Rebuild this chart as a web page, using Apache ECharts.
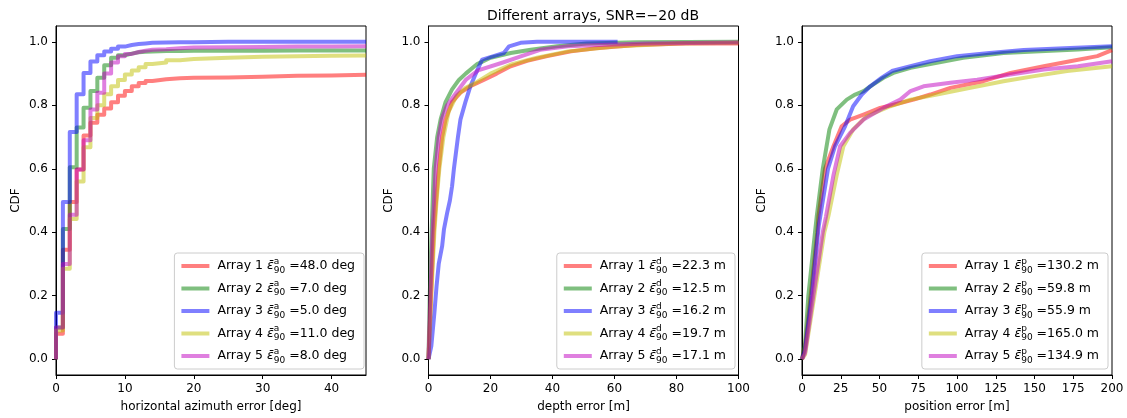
<!DOCTYPE html>
<html><head><meta charset="utf-8">
<script src="https://cdn.jsdelivr.net/npm/echarts@6/dist/echarts.min.js"></script>
<style>html,body{margin:0;padding:0;background:#fff}#c{width:1127px;height:418px}</style>
</head><body><div id="c"></div><script>
const FONT = 'DejaVu Sans';
const arrayNames = ['Array 1', 'Array 2', 'Array 3', 'Array 4', 'Array 5'];
const colors = ['rgba(255,0,0,0.5)', 'rgba(0,128,0,0.5)', 'rgba(0,0,255,0.5)', 'rgba(191,191,0,0.5)', 'rgba(191,0,191,0.5)'];
const titleText = 'Different arrays, SNR=\u221220 dB';

// Panel 1: horizontal azimuth error [deg] (step CDF at integer degrees; first entry is the CDF origin)
const azX       = [0, 0, 1, 2, 3, 4, 5, 6, 7, 8, 9, 10, 11, 12, 13, 14, 16, 18, 20, 25, 30, 35, 40, 45];
const azRed     = [0, 0.08, 0.345, 0.495, 0.598, 0.705, 0.745, 0.77, 0.79, 0.81, 0.83, 0.845, 0.86, 0.87, 0.877, 0.882, 0.885, 0.887, 0.888, 0.89, 0.893, 0.894, 0.896, 0.897];
const azGreen   = [0, 0.10, 0.41, 0.605, 0.73, 0.792, 0.845, 0.887, 0.926, 0.95, 0.958, 0.963, 0.967, 0.969, 0.97, 0.971, 0.971, 0.972, 0.972, 0.972, 0.973, 0.973, 0.973, 0.973];
const azBlue    = [0, 0.146, 0.495, 0.716, 0.835, 0.902, 0.938, 0.958, 0.97, 0.978, 0.985, 0.99, 0.993, 0.995, 0.997, 0.998, 0.999, 0.999, 1.0, 1.0, 1.0, 1.0, 1.0, 1.0];
const azYellow  = [0, 0.09, 0.285, 0.442, 0.56, 0.668, 0.76, 0.80, 0.835, 0.86, 0.88, 0.897, 0.91, 0.92, 0.93, 0.935, 0.942, 0.946, 0.95, 0.953, 0.955, 0.956, 0.957, 0.957];
const azMagenta = [0, 0.10, 0.30, 0.455, 0.598, 0.69, 0.787, 0.84, 0.90, 0.935, 0.955, 0.962, 0.968, 0.972, 0.975, 0.977, 0.98, 0.982, 0.983, 0.984, 0.985, 0.985, 0.986, 0.986];
const azE90 = ['48.0', '7.0', '5.0', '11.0', '8.0'];
const azTicks = [0, 10, 20, 30, 40];

// Panel 2: depth error [m]
const dRedX     = [0, 0.8, 1.7, 2.3, 3.3, 4.4, 5.5, 7.6, 10.3, 13.5, 17.8, 22, 26.5, 31.8, 38.3, 46, 54, 67, 83, 100];
const dRedY     = [0, 0.2, 0.4, 0.48, 0.6, 0.7, 0.755, 0.81, 0.84, 0.86, 0.88, 0.9, 0.923, 0.94, 0.955, 0.97, 0.98, 0.99, 0.995, 0.995];
const dGreenX   = [0, 0.4, 1.0, 1.7, 2.8, 3.9, 5.5, 7.6, 9.8, 12, 15.7, 20, 26.5, 33, 41.5, 51, 67, 100];
const dGreenY   = [0, 0.2, 0.4, 0.6, 0.7, 0.755, 0.81, 0.85, 0.88, 0.9, 0.93, 0.95, 0.965, 0.975, 0.986, 0.995, 0.999, 1.0];
const dBlueX    = [0, 0.6, 0.9, 1.9, 2.6, 3.3, 4.4, 5.0, 6.0, 6.9, 7.6, 8.2, 9.5, 10.3, 11.9, 13.5, 15.7, 17.3, 21, 24.3, 26, 29.7, 35, 45, 61];
const dBlueY    = [0, 0, 0.04, 0.146, 0.23, 0.30, 0.356, 0.41, 0.46, 0.5, 0.545, 0.6, 0.7, 0.755, 0.81, 0.86, 0.91, 0.944, 0.955, 0.965, 0.986, 0.997, 1.0, 1.0, 1.0];
const dYellowX  = [0, 0.9, 1.9, 2.6, 3.5, 4.8, 6.5, 9, 12, 15, 20, 27, 35, 45, 60, 80, 100];
const dYellowY  = [0, 0.2, 0.4, 0.5, 0.6, 0.7, 0.78, 0.83, 0.855, 0.87, 0.9, 0.93, 0.95, 0.97, 0.985, 0.995, 0.997];
const dMagentaX = [0, 0.6, 1.3, 2.3, 3.3, 4.4, 6, 8.2, 12, 16, 24, 30, 36, 45, 55, 70, 100];
const dMagentaY = [0, 0.2, 0.4, 0.6, 0.7, 0.76, 0.8, 0.83, 0.88, 0.91, 0.935, 0.955, 0.975, 0.986, 0.99, 0.995, 0.998];
const dE90 = ['22.3', '12.5', '16.2', '19.7', '17.1'];
const dTicks = [0, 20, 40, 60, 80, 100];

// Panel 3: position error [m]
const pRedX     = [0, 2, 5.6, 9.9, 10.6, 14.9, 20.3, 25.6, 31, 39.7, 50.4, 59, 72, 82.8, 95.7, 117, 134.5, 156, 173, 190.5, 200];
const pRedY     = [0, 0.04, 0.2, 0.4, 0.45, 0.6, 0.671, 0.734, 0.755, 0.771, 0.792, 0.802, 0.818, 0.834, 0.855, 0.876, 0.902, 0.923, 0.939, 0.955, 0.974];
const pGreenX   = [0, 2, 4.1, 8.4, 9.5, 13.4, 17.7, 22.4, 28.9, 34.3, 39.7, 46, 52.6, 59, 70, 87, 104, 130, 150, 178, 200];
const pGreenY   = [0, 0.05, 0.2, 0.4, 0.45, 0.6, 0.724, 0.787, 0.818, 0.834, 0.845, 0.866, 0.887, 0.902, 0.918, 0.934, 0.95, 0.965, 0.97, 0.976, 0.983];
const pBlueX    = [0, 2, 6.3, 10.8, 16.8, 21.3, 27.8, 33, 38.6, 44, 51.5, 58, 70, 82.8, 100, 121, 143, 173, 200];
const pBlueY    = [0, 0.03, 0.2, 0.42, 0.6, 0.671, 0.734, 0.797, 0.834, 0.86, 0.887, 0.908, 0.923, 0.939, 0.955, 0.965, 0.974, 0.981, 0.986];
const pYellowX  = [0, 2, 8, 14.4, 17, 22.4, 26.7, 33, 41.8, 56.9, 70, 87, 108.6, 130, 150, 171, 200];
const pYellowY  = [0, 0.015, 0.2, 0.4, 0.45, 0.58, 0.671, 0.724, 0.766, 0.797, 0.818, 0.834, 0.855, 0.876, 0.892, 0.908, 0.923];
const pMagentaX = [0, 2, 7.3, 13.4, 15.5, 20.3, 24.6, 31, 39.7, 52.6, 63.4, 70, 78.4, 95.7, 113, 134.5, 156, 178, 200];
const pMagentaY = [0, 0.02, 0.2, 0.4, 0.45, 0.58, 0.671, 0.713, 0.755, 0.792, 0.818, 0.845, 0.86, 0.871, 0.881, 0.897, 0.913, 0.923, 0.939];
const pE90 = ['130.2', '59.8', '55.9', '165.0', '134.9'];
const pTicks = [0, 25, 50, 75, 100, 125, 150, 175, 200];

const yTicks = [0, 0.2, 0.4, 0.6, 0.8, 1.0];

const panels = [
  { key: 'a', unit: 'deg', e90: azE90, xmax: 45, ticks: azTicks, xname: 'horizontal azimuth error [deg]', step: 'end',
    xs: [azX, azX, azX, azX, azX], ys: [azRed, azGreen, azBlue, azYellow, azMagenta] },
  { key: 'd', unit: 'm', e90: dE90, xmax: 100, ticks: dTicks, xname: 'depth error [m]', step: false,
    xs: [dRedX, dGreenX, dBlueX, dYellowX, dMagentaX], ys: [dRedY, dGreenY, dBlueY, dYellowY, dMagentaY] },
  { key: 'p', unit: 'm', e90: pE90, xmax: 200, ticks: pTicks, xname: 'position error [m]', step: false,
    xs: [pRedX, pGreenX, pBlueX, pYellowX, pMagentaX], ys: [pRedY, pGreenY, pBlueY, pYellowY, pMagentaY] }
];

const gridLefts = [56, 428.5, 802];
const legendRights = [763, 392, 19];

const labelMap = {};
const grids = [], xAxes = [], yAxes = [], series = [], legends = [];
panels.forEach((p, pi) => {
  grids.push({ left: gridLefts[pi], top: 26, width: 310, height: 350, show: true, borderColor: '#000', borderWidth: 1, backgroundColor: 'transparent' });
  xAxes.push({
    type: 'value', gridIndex: pi, min: 0, max: p.xmax,
    name: p.xname, nameLocation: 'middle', nameGap: 26,
    nameTextStyle: { fontFamily: FONT, fontSize: 12, color: '#000' },
    axisLine: { onZero: false, lineStyle: { color: '#000', width: 1 } },
    axisTick: { show: true, inside: false, length: 4, lineStyle: { color: '#000' }, customValues: p.ticks },
    axisLabel: { fontFamily: FONT, fontSize: 12, color: '#000', margin: 8, customValues: p.ticks, formatter: v => String(v) },
    splitLine: { show: false }
  });
  yAxes.push({
    type: 'value', gridIndex: pi, min: -0.05, max: 1.05,
    name: 'CDF', nameLocation: 'middle', nameGap: 34,
    nameTextStyle: { fontFamily: FONT, fontSize: 12, color: '#000' },
    axisLine: { show: true, lineStyle: { color: '#000', width: 1 } },
    axisTick: { show: true, inside: false, length: 4, lineStyle: { color: '#000' }, customValues: yTicks },
    axisLabel: { fontFamily: FONT, fontSize: 12, color: '#000', margin: 8, customValues: yTicks, formatter: v => v.toFixed(1) },
    splitLine: { show: false }
  });
  const names = [];
  arrayNames.forEach((an, i) => {
    const nm = an + ' ' + p.key;
    names.push(nm);
    labelMap[nm] = an + ' {e|\u03b5\u0304}{sup|' + p.key + '}{sub|90} =' + p.e90[i] + ' ' + p.unit;
    series.push({
      type: 'line', name: nm, xAxisIndex: pi, yAxisIndex: pi,
      data: p.xs[i].map((x, k) => [x, p.ys[i][k]]),
      step: p.step, showSymbol: false, symbol: 'none', smooth: false,
      color: colors[i],
      lineStyle: { width: 4, color: colors[i], join: 'round' },
      emphasis: { disabled: true }
    });
  });
  legends.push({
    orient: 'vertical', right: legendRights[pi], bottom: 49, data: names,
    icon: 'rect', itemWidth: 28, itemHeight: 4, itemGap: 4.5,
    padding: [4, 9, 4, 7], borderColor: '#cccccc', borderWidth: 1, borderRadius: 3,
    backgroundColor: 'rgba(255,255,255,0.8)', selectedMode: false,
    formatter: n => labelMap[n],
    textStyle: {
      fontFamily: FONT, fontSize: 12.5, color: '#000', lineHeight: 18, padding: [0, 0, 0, 3],
      rich: {
        e: { fontFamily: FONT, fontSize: 12.5, fontStyle: 'italic', color: '#000', lineHeight: 18 },
        sup: { fontFamily: FONT, fontSize: 9, color: '#000', verticalAlign: 'top', lineHeight: 9, width: 0.01 },
        sub: { fontFamily: FONT, fontSize: 9, color: '#000', verticalAlign: 'bottom', lineHeight: 9 }
      }
    }
  });
});

const chart = echarts.init(document.getElementById('c'), null, { renderer: 'canvas' });
chart.setOption({
  animation: false,
  backgroundColor: '#fff',
  title: { text: titleText, left: 588, top: 4, textAlign: 'center', textStyle: { fontFamily: FONT, fontSize: 14, fontWeight: 'normal', color: '#000' } },
  grid: grids, xAxis: xAxes, yAxis: yAxes, series: series, legend: legends
});
</script></body></html>
